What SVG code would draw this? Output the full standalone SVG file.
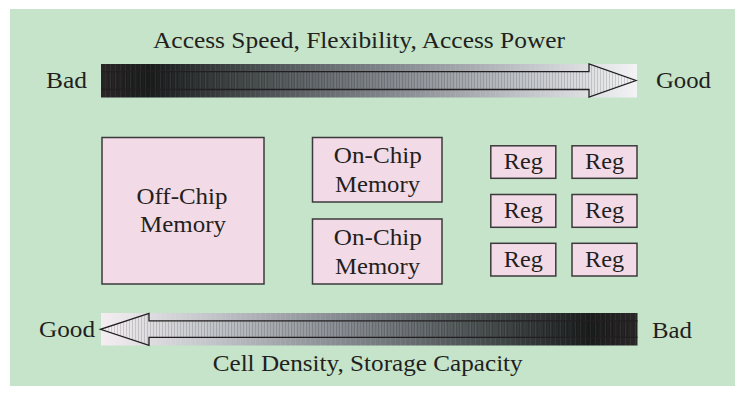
<svg xmlns="http://www.w3.org/2000/svg" width="743" height="393" viewBox="0 0 743 393">
  <style>
    .mid { text-anchor: middle; }
    .box { fill: #f2dae6; stroke: #3d3a3b; stroke-width: 1.5; }
    .arrow { fill: url(#stripes); stroke: #231f20; stroke-width: 1.3; stroke-linejoin: miter; }
  </style>
  <defs>
    <!-- dark-to-light ramp for the upper scale -->
    <linearGradient id="rampUp" x1="0" y1="0" x2="1" y2="0">
      <stop offset="0" stop-color="#2a2627"/>
      <stop offset="0.09" stop-color="#1a1c1c"/>
      <stop offset="0.3" stop-color="#4b5152"/>
      <stop offset="0.55" stop-color="#858a90"/>
      <stop offset="0.8" stop-color="#c3c6ca"/>
      <stop offset="1" stop-color="#f3f3f5"/>
    </linearGradient>
    <!-- light-to-dark ramp for the lower scale -->
    <linearGradient id="rampDown" x1="0" y1="0" x2="1" y2="0">
      <stop offset="0" stop-color="#f4eef2"/>
      <stop offset="0.2" stop-color="#c3c6ca"/>
      <stop offset="0.45" stop-color="#858a90"/>
      <stop offset="0.7" stop-color="#4b5152"/>
      <stop offset="0.91" stop-color="#1a1c1c"/>
      <stop offset="1" stop-color="#2a2627"/>
    </linearGradient>
    <!-- fine vertical hatching inside the arrows -->
    <pattern id="stripes" width="3" height="10" patternUnits="userSpaceOnUse">
      <rect x="0" y="0" width="1" height="10" fill="#000" fill-opacity="0.14"/>
    </pattern>
    <pattern id="grain" width="5" height="10" patternUnits="userSpaceOnUse">
      <rect x="0" y="0" width="1" height="10" fill="#fff" fill-opacity="0.06"/>
    </pattern>
  </defs>

  <!-- background panel -->
  <rect x="10" y="9" width="725" height="377" fill="#c5e4ca"/>

  <g font-family="Liberation Serif, Times New Roman, serif" font-size="23" fill="#231f20">
  <!-- upper scale: speed / flexibility / power -->
  <g id="scale-top">
    <text class="mid" x="359" y="48" textLength="412" lengthAdjust="spacingAndGlyphs">Access Speed, Flexibility, Access Power</text>
    <rect x="101" y="64" width="536" height="33.5" fill="url(#rampUp)"/>
    <rect x="101" y="64" width="536" height="33.5" fill="url(#grain)"/>
    <path class="arrow" d="M101,71.7 H589 V63.8 L636,80.5 L589,97.2 V89.5 H101"/>
    <text x="46" y="88" textLength="41" lengthAdjust="spacingAndGlyphs">Bad</text>
    <text x="656" y="88" textLength="55" lengthAdjust="spacingAndGlyphs">Good</text>
  </g>

  <!-- lower scale: density / capacity -->
  <g id="scale-bottom">
    <rect x="101" y="313" width="536.5" height="32.5" fill="url(#rampDown)"/>
    <rect x="101" y="313" width="536.5" height="32.5" fill="url(#grain)"/>
    <path class="arrow" d="M637.5,320.8 H149 V313.3 L100.5,329.3 L149,345.3 V337.4 H637.5"/>
    <text x="39" y="337" textLength="56" lengthAdjust="spacingAndGlyphs">Good</text>
    <text x="652" y="338" textLength="40" lengthAdjust="spacingAndGlyphs">Bad</text>
    <text class="mid" x="367.7" y="371" textLength="310" lengthAdjust="spacingAndGlyphs">Cell Density, Storage Capacity</text>
  </g>

  <!-- memory blocks -->
  <g id="off-chip">
    <rect class="box" x="102" y="137.5" width="162" height="146.5"/>
    <text class="mid" x="182" y="204" textLength="91" lengthAdjust="spacingAndGlyphs">Off-Chip</text>
    <text class="mid" x="183" y="232.3" textLength="86" lengthAdjust="spacingAndGlyphs">Memory</text>
  </g>
  <g id="on-chip-1">
    <rect class="box" x="312.5" y="137.5" width="129.5" height="64.5"/>
    <text class="mid" x="377.8" y="163.3" textLength="88" lengthAdjust="spacingAndGlyphs">On-Chip</text>
    <text class="mid" x="377.5" y="192.3" textLength="85" lengthAdjust="spacingAndGlyphs">Memory</text>
  </g>
  <g id="on-chip-2">
    <rect class="box" x="312.5" y="219" width="129.5" height="65"/>
    <text class="mid" x="377.8" y="245" textLength="88" lengthAdjust="spacingAndGlyphs">On-Chip</text>
    <text class="mid" x="377.5" y="274" textLength="85" lengthAdjust="spacingAndGlyphs">Memory</text>
  </g>

  <!-- register file -->
  <g id="reg-1-1">
    <rect class="box" x="490.8" y="145.8" width="65" height="32.5"/>
    <text class="mid" x="523.3" y="169.3" textLength="39" lengthAdjust="spacingAndGlyphs">Reg</text>
  </g>
  <g id="reg-1-2">
    <rect class="box" x="572" y="145.8" width="65" height="32.5"/>
    <text class="mid" x="604.5" y="169.3" textLength="39" lengthAdjust="spacingAndGlyphs">Reg</text>
  </g>
  <g id="reg-2-1">
    <rect class="box" x="490.8" y="194.5" width="65" height="32.8"/>
    <text class="mid" x="523.3" y="217.5" textLength="39" lengthAdjust="spacingAndGlyphs">Reg</text>
  </g>
  <g id="reg-2-2">
    <rect class="box" x="572" y="194.5" width="65" height="32.8"/>
    <text class="mid" x="604.5" y="217.5" textLength="39" lengthAdjust="spacingAndGlyphs">Reg</text>
  </g>
  <g id="reg-3-1">
    <rect class="box" x="490.8" y="243.3" width="65" height="32.7"/>
    <text class="mid" x="523.3" y="266.7" textLength="39" lengthAdjust="spacingAndGlyphs">Reg</text>
  </g>
  <g id="reg-3-2">
    <rect class="box" x="572" y="243.3" width="65" height="32.7"/>
    <text class="mid" x="604.5" y="266.7" textLength="39" lengthAdjust="spacingAndGlyphs">Reg</text>
  </g>
  </g>
</svg>
